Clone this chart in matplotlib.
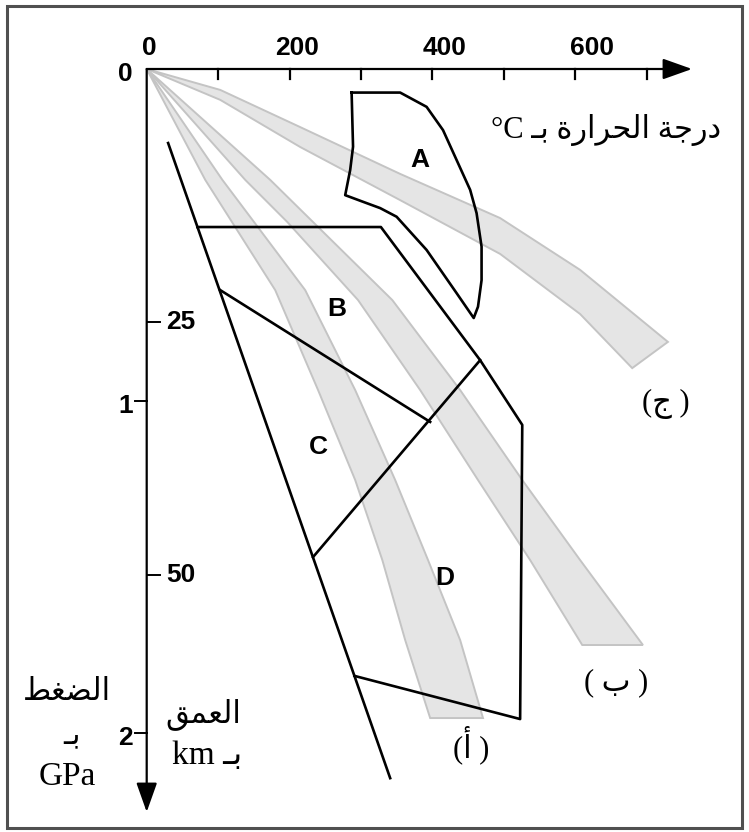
import matplotlib
matplotlib.use('Agg')
import matplotlib.pyplot as plt
from matplotlib.patches import Rectangle, Polygon

# ---------------------------------------------------------------- data
# temperature axis (°C) and pressure / depth axis
t_ticks = [100, 200, 300, 400, 500, 600, 700]
t_labels = [0, 200, 400, 600]
p_labels = [0, 1, 2]          # GPa
depth_labels = [25, 50]       # km
GPA_PER_KM = 0.0305

# geotherm bands, each one = two edges given as (T in °C, P in GPa)
# band (أ)
a_left_T = [0, 82, 180, 240, 292, 330, 362, 397]
a_left_P = [0, 0.334, 0.666, 0.967, 1.238, 1.479, 1.720, 1.955]
a_right_T = [0, 106, 222, 292, 348, 394, 439, 471]
a_right_P = [0, 0.334, 0.666, 0.967, 1.238, 1.479, 1.720, 1.955]
# band (ب)
b_left_T = [0, 138, 197, 296, 383, 464, 537, 610]
b_left_P = [0, 0.334, 0.461, 0.696, 0.967, 1.238, 1.479, 1.735]
b_right_T = [0, 173, 233, 344, 439, 526, 607, 695]
b_right_P = [0, 0.334, 0.461, 0.696, 0.967, 1.238, 1.479, 1.735]
# band (ج)
c_upper_T = [0, 103, 215, 355, 495, 607, 730]
c_upper_P = [0, 0.063, 0.175, 0.316, 0.449, 0.605, 0.822]
c_lower_T = [0, 103, 215, 355, 495, 607, 680]
c_lower_P = [0, 0.093, 0.235, 0.395, 0.557, 0.738, 0.901]

# facies boundaries (T, P)
main_line_T = [30, 341]
main_line_P = [0.223, 2.136]
a_field_T = [287, 355, 392, 415, 434, 453, 462, 469, 469, 464, 458,
             434, 392, 350, 327, 303, 278, 285, 289, 288, 287]
a_field_P = [0.071, 0.071, 0.114, 0.184, 0.274, 0.364, 0.434, 0.535, 0.636, 0.716, 0.750,
             0.675, 0.545, 0.445, 0.419, 0.400, 0.380, 0.304, 0.234, 0.154, 0.071]
outer_T = [71, 328, 467, 526, 523, 291]
outer_P = [0.476, 0.476, 0.877, 1.072, 1.958, 1.828]
bc_T = [103, 397]
bc_P = [0.666, 1.063]
cd_T = [467, 233]
cd_P = [0.877, 1.470]

# ---------------------------------------------------------------- figure
W, H = 749, 832
X0, SX = 146.7, 0.714   # pixel of T=0, pixels per °C
Y0, SY = 69.0, 332.0    # pixel of P=0, pixels per GPa


def T(px):
    return (px - X0) / SX


def P(py):
    return (py - Y0) / SY


fig = plt.figure(figsize=(W / 100, H / 100), dpi=100)
ax = fig.add_axes([0, 0, 1, 1])
ax.set_xlim(T(0), T(W))
ax.set_ylim(P(H), P(0))
ax.axis('off')

# frame
ax.add_patch(Rectangle((7 / W, 1 - 828 / H), 735 / W, 822 / H, transform=ax.transAxes,
                       fill=False, edgecolor='#505050', linewidth=2.2))

# gray bands
band_fill, band_edge = '#e5e5e5', '#c4c4c4'
for lt, lp, rt, rp in [(a_left_T, a_left_P, a_right_T, a_right_P),
                       (b_left_T, b_left_P, b_right_T, b_right_P),
                       (c_upper_T, c_upper_P, c_lower_T, c_lower_P)]:
    pts = list(zip(lt, lp)) + list(zip(rt, rp))[::-1]
    ax.add_patch(Polygon(pts, closed=True, facecolor=band_fill, edgecolor=band_edge,
                         linewidth=1.4, zorder=1))

# facies boundaries
lk = dict(color='black', linewidth=1.9, zorder=3, solid_joinstyle='round')
ax.plot(main_line_T, main_line_P, **lk)
ax.plot(a_field_T, a_field_P, **lk)
ax.plot(outer_T, outer_P, **lk)
ax.plot(bc_T, bc_P, **lk)
ax.plot(cd_T, cd_P, **lk)

# axes with arrows
ak = dict(arrowstyle='-|>,head_length=0.9,head_width=0.32', color='black', lw=1.6,
          shrinkA=0, shrinkB=0, mutation_scale=20)
ax.annotate('', xy=(T(692), 0), xytext=(0, 0), arrowprops=ak, zorder=4)
ax.annotate('', xy=(0, P(812)), xytext=(0, 0), arrowprops=ak, zorder=4)

for t in t_ticks:
    ax.plot([t, t], [0, P(79)], color='black', lw=1.6, zorder=4)

num = dict(family='Liberation Sans', fontweight='bold', fontsize=19, color='black')
for t in t_labels:
    ax.text(t * 1.035 + 3, P(48), str(t), ha='center', va='center', **num)

for p in p_labels:
    if p > 0:
        ax.plot([T(135), 0], [p, p], color='black', lw=1.4, zorder=4)
    ax.text(T(133), p + 0.015, str(p), ha='right', va='center', **num)

for d in depth_labels:
    ax.plot([0, T(160)], [d * GPA_PER_KM] * 2, color='black', lw=1.4, zorder=4)
    ax.text(T(166), d * GPA_PER_KM, str(d), ha='left', va='center', **num)

# facies letters
let = dict(family='Liberation Sans', fontweight='bold', fontsize=19, ha='center', va='center', zorder=5)
ax.text(T(420), P(160), 'A', **let)
ax.text(T(337), P(309), 'B', **let)
ax.text(T(318), P(447), 'C', **let)
ax.text(T(445), P(578), 'D', **let)

# arabic labels (presentation forms, visual order)
ar = dict(family=['Liberation Serif', 'DejaVu Sans'], fontsize=22, ha='center', va='center')
temp_txt = ('°C ' + '\u0640\uFE91' + ' ' + '\uFE93\uFEAD\uFE8D\uFEAE\uFEA4\uFEDF\uFE8D'
            + ' ' + '\uFE94\uFE9F\uFEAD\uFEA9')
ax.text(T(606), P(130), temp_txt, **ar)

ax.text(T(67), P(692), '\uFEC2\uFED0\uFEC0\uFEDF\uFE8D', **ar)
ax.text(T(72), P(736), '\u0640\uFE91', **ar)
ax.text(T(67), P(777), 'GPa', **dict(ar, fontsize=24))

ax.text(T(203), P(714), '\uFED6\uFEE4\uFECC\uFEDF\uFE8D', **ar)
ax.text(T(207), P(756), 'km \u0640\uFE91', **dict(ar, fontsize=24))

ax.text(T(666), P(404), '(\uFE9D )', **ar)
ax.text(T(616), P(683), '( \uFE8F )', **ar)
ax.text(T(471), P(745), '(\uFE83 )', **ar)

fig.savefig('out.png', dpi=100)
